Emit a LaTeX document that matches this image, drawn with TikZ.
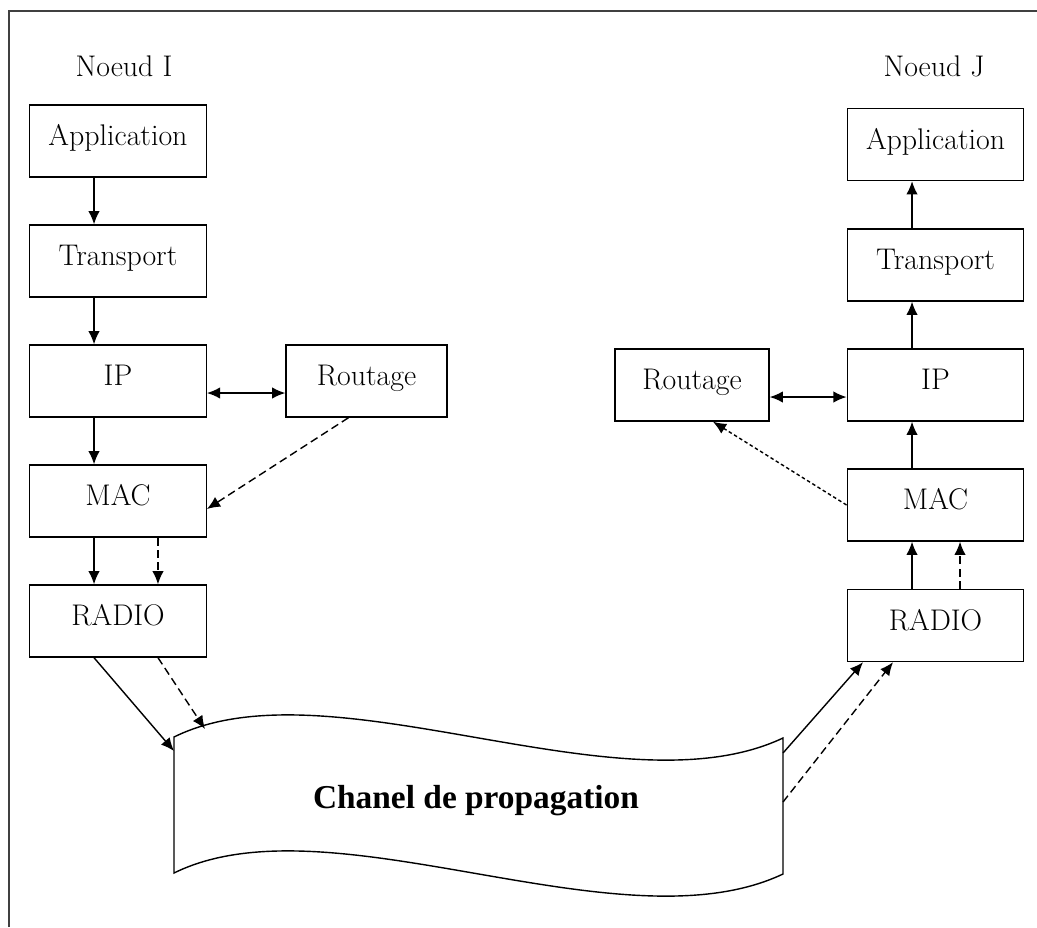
\documentclass[tikz,border=0pt]{standalone}
\usepackage{fontspec}
\newfontfamily\chanfont{Liberation Serif}
\usetikzlibrary{arrows.meta,positioning}

\begin{document}
\begin{tikzpicture}[x=0.02cm, y=-0.02cm, >={Latex[length=7.5pt,width=6.5pt]},
    layer/.style={rectangle, draw, line width=0.8pt, minimum width=3.53cm, minimum height=1.44cm, text height=12pt, text depth=6.8pt, font=\fontsize{17}{20}\selectfont},
    lbl/.style={font=\fontsize{17}{20}\selectfont, anchor=base},
    ar/.style={line width=0.8pt,->},
    dar/.style={ar, dash pattern=on 4.5pt off 2.5pt},
    fdar/.style={ar, dash pattern=on 2pt off 1.5pt}]
    \useasboundingbox (0,0) rectangle (1037,927);
    \draw [line width=1.2pt, black!75] (9,927) |- (1037,11);

    % noeud I
    \node [lbl] (noeudI) at (124,76) {Noeud I};
    \node [layer] (appI) at (118,141) {Application};
    \node [layer] (trI) at (118,261) {Transport};
    \node [layer] (ipI) at (118,381) {IP};
    \node [layer] (macI) at (118,501) {MAC};
    \node [layer] (radI) at (118,621) {RADIO};
    \node [layer, minimum width=3.22cm] (routI) at (366.5,381) {Routage};

    % noeud J
    \node [lbl] (noeudJ) at (934,76) {Noeud J};
    \node [layer] (appJ) at (935.5,144.5) {Application};
    \node [layer] (trJ) at (935.5,265) {Transport};
    \node [layer] (ipJ) at (935.5,385) {IP};
    \node [layer] (macJ) at (935.5,505) {MAC};
    \node [layer] (radJ) at (935.5,625.5) {RADIO};
    \node [layer, minimum width=3.08cm] (routJ) at (692,385) {Routage};

    % canal
    \draw [line width=0.8pt] (174,737) .. controls (330,660) and (620,815) .. (783,738) -- (783,874) .. controls (620,951) and (330,796) .. (174,873) -- cycle;
    \node [font=\chanfont\bfseries\fontsize{19}{22}\selectfont, anchor=base] (chan) at (476,808) {Chanel de propagation};
    \coordinate (inS) at (174,751);
    \coordinate (inD) at (205,729);
    \coordinate (outS) at (783,753);
    \coordinate (outD) at (783,802);

    \draw [ar] ([xshift=-0.48cm]appI.south) -- ([xshift=-0.48cm]trI.north);
    \draw [ar] ([xshift=-0.48cm]trI.south) -- ([xshift=-0.48cm]ipI.north);
    \draw [ar] ([xshift=-0.48cm]ipI.south) -- ([xshift=-0.48cm]macI.north);
    \draw [ar, <->] ([yshift=-0.24cm]ipI.east) -- ([yshift=-0.24cm]routI.west);
    \draw [dar] ([xshift=-0.36cm]routI.south) -- ([yshift=-0.16cm]macI.east);
    \draw [ar] ([xshift=-0.48cm]macI.south) -- ([xshift=-0.48cm]radI.north);
    \draw [dar] ([xshift=0.8cm]macI.south) -- ([xshift=0.8cm]radI.north);
    \draw [ar] ([xshift=-0.48cm]radI.south) -- (inS);
    \draw [dar] ([xshift=0.8cm]radI.south) -- (inD);

    \draw [ar] (outS) -- ([xshift=-1.45cm]radJ.south);
    \draw [dar] (outD) -- ([xshift=-0.85cm]radJ.south);
    \draw [ar] ([xshift=-0.47cm]radJ.north) -- ([xshift=-0.47cm]macJ.south);
    \draw [dar] ([xshift=0.49cm]radJ.north) -- ([xshift=0.49cm]macJ.south);
    \draw [fdar] (macJ.west) -- ([xshift=0.42cm]routJ.south);
    \draw [ar] ([xshift=-0.47cm]macJ.north) -- ([xshift=-0.47cm]ipJ.south);
    \draw [ar, <->] ([yshift=-0.24cm]routJ.east) -- ([yshift=-0.24cm]ipJ.west);
    \draw [ar] ([xshift=-0.47cm]ipJ.north) -- ([xshift=-0.47cm]trJ.south);
    \draw [ar] ([xshift=-0.47cm]trJ.north) -- ([xshift=-0.47cm]appJ.south);
\end{tikzpicture}
\end{document}
